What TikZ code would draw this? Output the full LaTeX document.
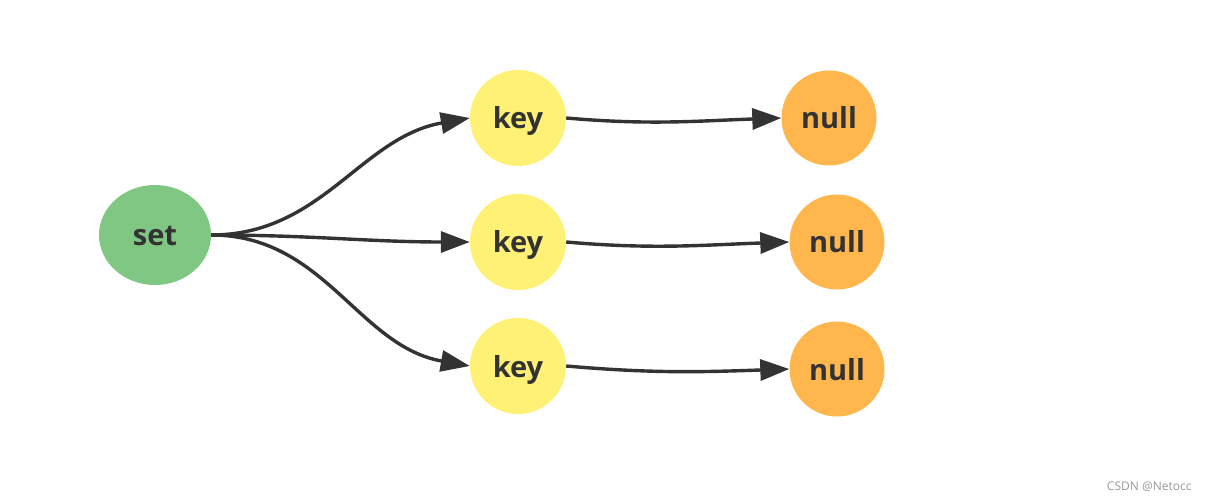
\documentclass[tikz,border=0pt]{standalone}
\usepackage{fontspec}
\setmainfont{Open Sans}
\usetikzlibrary{shapes.geometric,arrows.meta}
\definecolor{setgreen}{HTML}{80C783}
\definecolor{keyyellow}{HTML}{FFF176}
\definecolor{nullorange}{HTML}{FFB74D}
\definecolor{txt}{HTML}{333333}
\tikzset{
  bubble/.style={ellipse,inner sep=0pt,text=txt,text height=27pt,text depth=5pt,font=\fontsize{29}{31}\selectfont\bfseries},
  setnode/.style={bubble,fill=setgreen,minimum width=112pt,minimum height=100pt},
  keynode/.style={bubble,fill=keyyellow,minimum width=96pt,minimum height=96pt},
  nullnode/.style={bubble,fill=nullorange,minimum width=95pt,minimum height=95pt},
  link/.style={draw=txt,line width=3.4pt,-{Triangle[length=29pt,width=21pt]}}
}
\begin{document}
\begin{tikzpicture}[x=1pt,y=-1pt]
\useasboundingbox (0,0) rectangle (1209,502);
\node[setnode] (s) at (155,235) {set};
\node[keynode] (k1) at (518,118) {key};
\node[keynode] (k2) at (518,242) {key};
\node[keynode] (k3) at (518,366) {key};
\node[nullnode] (n1) at (829,118) {null};
\node[nullnode] (n2) at (837,242) {null};
\node[nullnode] (n3) at (837,369) {null};
\draw[link] (s.east) to[out=0,in=190] (k1.west);
\draw[link] (s.east) to[out=0,in=180] (k2.west);
\draw[link] (s.east) to[out=0,in=170] (k3.west);
\draw[link] (k1.east) to[out=-5,in=182] (n1.west);
\draw[link] (k2.east) to[out=-5,in=182] (n2.west);
\draw[link] (k3.east) to[out=-5,in=182] (n3.west);
\node[text=gray!80,font=\fontsize{12}{13}\selectfont,anchor=east] (wm) at (1195,487) {CSDN @Netocc};
\end{tikzpicture}
\end{document}
